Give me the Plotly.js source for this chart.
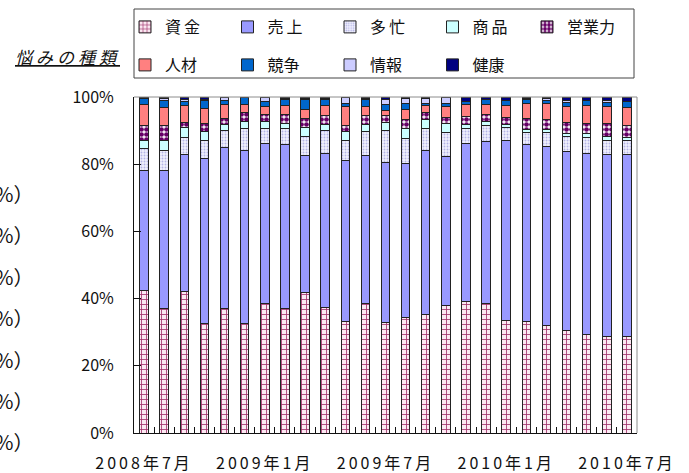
<!DOCTYPE html>
<html><head><meta charset="utf-8">
<script src="https://cdn.plot.ly/plotly-3.0.1.min.js"></script>
<style>
body{margin:0;background:#fff}
#chart{width:689px;height:473px}
.legendtext{letter-spacing:3px}
.xtick text{letter-spacing:3px}
</style></head><body><div id="chart"></div><script>
const months = ['2008年7月','2008年8月','2008年9月','2008年10月','2008年11月','2008年12月',
  '2009年1月','2009年2月','2009年3月','2009年4月','2009年5月','2009年6月',
  '2009年7月','2009年8月','2009年9月','2009年10月','2009年11月','2009年12月',
  '2010年1月','2010年2月','2010年3月','2010年4月','2010年5月','2010年6月','2010年7月'];
const xTickLabels = ['2008年7月','','','','','','2009年1月','','','','','','2009年7月','','','','','','2010年1月','','','','','','2010年7月'];
const yTicks = [0,20,40,60,80,100];
const yTickLabels = ['0%','20%','40%','60%','80%','100%'];

const funds      = [42.5,37.0,42.0,32.6,37.1,32.7,38.4,37.0,41.7,37.5,33.3,38.4,33.0,34.5,35.4,37.8,39.0,38.4,33.6,33.3,32.1,30.4,29.2,28.6,28.6];
const sales      = [35.5,41.2,41.0,49.0,48.0,51.5,47.9,48.9,40.8,45.8,47.9,44.1,47.5,45.8,48.7,44.6,47.3,48.4,53.6,52.6,53.3,53.5,54.1,54.3,54.3];
const busy       = [6.6,6.0,4.9,5.5,4.8,6.4,4.3,4.7,5.6,6.6,5.9,7.1,9.4,7.4,6.6,6.9,4.4,4.7,3.8,3.6,4.0,4.4,4.6,4.3,4.1];
const product    = [2.6,2.9,3.1,2.5,2.0,2.2,2.1,1.6,2.8,2.0,2.5,2.1,2.5,2.8,2.5,2.9,1.2,1.2,0.8,0.9,0.8,0.9,1.1,1.0,1.0];
const salesForce = [4.4,4.5,1.4,2.6,1.8,2.5,2.1,2.5,2.6,2.5,1.8,2.8,2.1,2.7,2.1,1.8,2.2,2.0,2.2,3.1,3.0,3.1,3.0,3.8,3.5];
const staff      = [6.3,5.4,5.1,4.4,4.1,2.4,2.3,2.8,2.8,3.1,5.7,2.6,1.6,3.0,2.3,3.2,3.6,3.1,3.6,4.7,4.9,4.8,5.4,5.1,5.4];
const competition= [1.8,2.0,1.3,2.5,1.3,2.1,1.5,1.9,3.1,1.9,1.1,2.3,1.7,1.8,0.5,0.9,0.9,1.4,1.4,1.0,1.0,1.3,1.6,1.3,1.8];
const info       = [0.1,0.7,0.5,0.1,0.9,0.0,1.4,0.1,0.1,0.1,1.8,0.1,1.6,1.6,1.6,1.7,0.0,0.0,0.0,0.3,0.5,0.7,0.0,0.7,0.0];
const health     = [0.2,0.3,0.7,0.8,0.0,0.2,0.0,0.5,0.5,0.5,0.0,0.5,0.6,0.4,0.3,0.2,1.4,0.8,1.0,0.5,0.4,0.9,1.0,0.9,1.3];

const seriesNames = ['資金','売上','多忙','商品','営業力','人材','競争','情報','健康'];
const sideLabels = ['%）','%）','%）','%）','%）','%）','%）'];

const FONT = '"Noto Sans CJK JP", "Noto Sans", sans-serif';
const edge = {color:'#222', width:1};

function tr(name, y, color, legend, pattern){
  const m = {color: color, line: edge};
  if (pattern) m.pattern = pattern;
  return {type:'bar', name:name, x:months, y:y, marker:m, legend:legend, hoverinfo:'skip'};
}
const data = [
  tr(seriesNames[0], funds, '#f6dcea', 'legend', {shape:'+', fgcolor:'#a0306a', bgcolor:'#fbe9f2', size:5, solidity:0.3}),
  tr(seriesNames[1], sales, '#9999ff', 'legend'),
  tr(seriesNames[2], busy, '#ececfc', 'legend', {shape:'.', fgcolor:'#b4b4e6', bgcolor:'#f0f0fd', size:3, solidity:0.3}),
  tr(seriesNames[3], product, '#ccffff', 'legend'),
  tr(seriesNames[4], salesForce, '#660066', 'legend3', {shape:'.', fgcolor:'#660066', bgcolor:'#ffffff', size:5, solidity:0.7}),
  tr(seriesNames[5], staff, '#ff8080', 'legend2'),
  tr(seriesNames[6], competition, '#0066cc', 'legend2'),
  tr(seriesNames[7], info, '#ccccff', 'legend2'),
  tr(seriesNames[8], health, '#000080', 'legend2')
];

const L=134, R=637, T=97, B=433;
const px2x = p => (p - L)/(R - L);
const py2y = p => (B - p)/(B - T);

const annotations = [{
  xref:'paper', yref:'paper', x:px2x(67), y:py2y(56), xanchor:'center', yanchor:'middle',
  text:'<span style="text-decoration:underline;letter-spacing:4px">悩みの種類</span>', showarrow:false,
  font:{family:FONT, size:17, color:'#111', style:'italic'}
}];
sideLabels.forEach((t,i)=>{
  annotations.push({xref:'paper', yref:'paper', x:px2x(-7), y:py2y(193+41.5*i), xanchor:'left', yanchor:'middle',
    text:t, showarrow:false, font:{family:FONT, size:20, color:'#111'}});
});

const legendBase = {orientation:'h', xref:'container', yref:'container', xanchor:'left', yanchor:'top',
  x:125/689, entrywidth:57.5, entrywidthmode:'pixels', traceorder:'normal',
  font:{family:FONT, size:16, color:'#111'}, bgcolor:'rgba(0,0,0,0)', itemclick:false, itemdoubleclick:false};

const layout = {
  width:689, height:473,
  margin:{l:L, r:689-R, t:T, b:473-B, autoexpand:false},
  paper_bgcolor:'#fff', plot_bgcolor:'#fff',
  barmode:'stack', bargap:0.58,
  showlegend:true,
  legend: Object.assign({}, legendBase, {y:1-10/473}),
  legend3: Object.assign({}, legendBase, {y:1-10/473, x:527/689}),
  legend2: Object.assign({}, legendBase, {y:1-48/473}),
  xaxis:{type:'category', tickvals:months, ticktext:xTickLabels, tickson:'boundaries',
    ticks:'inside', ticklen:6, tickcolor:'#111', showline:true, linecolor:'#111', linewidth:1,
    showgrid:false, zeroline:false, tickangle:0, ticklabelstandoff:16,
    tickfont:{family:FONT, size:16, color:'#111'}},
  yaxis:{range:[0,100], tickvals:yTicks, ticktext:yTickLabels, ticks:'inside', ticklen:7, tickcolor:'#111',
    showline:true, linecolor:'#111', linewidth:1, showgrid:false, zeroline:false, ticklabelstandoff:16,
    tickfont:{family:FONT, size:16, color:'#111'}},
  shapes:[
    {type:'line', xref:'paper', yref:'paper', x0:0, x1:1, y0:1, y1:1, line:{color:'#8c8c8c', width:1}},
    {type:'line', xref:'paper', yref:'paper', x0:1, x1:1, y0:0, y1:1, line:{color:'#8c8c8c', width:1}},
    {type:'rect', xref:'paper', yref:'paper', x0:0, x1:px2x(634), y0:py2y(78), y1:py2y(9), line:{color:'#444', width:1}}
  ],
  annotations: annotations
};

Plotly.newPlot('chart', data, layout, {staticPlot:true, displayModeBar:false});
</script></body></html>
